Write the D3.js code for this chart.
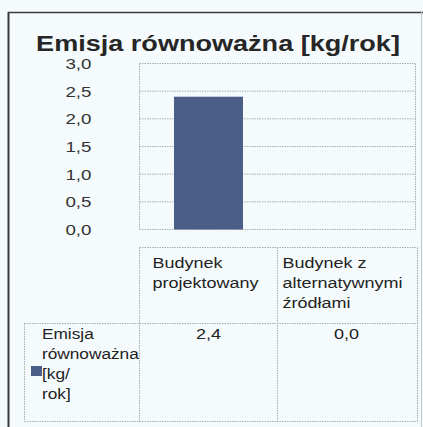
<!DOCTYPE html>
<html>
<head>
<meta charset="utf-8">
<script src="https://cdn.jsdelivr.net/npm/d3@7"></script>
<style>
  html, body { margin: 0; padding: 0; background: #f5fbfd; }
  svg { display: block; }
  text { font-family: "Liberation Sans", Arial, sans-serif; fill: #222; }
</style>
</head>
<body>
<svg id="chart" width="423" height="427"></svg>
<script>
// Chart data
const title = "Emisja równoważna [kg/rok]";
const categories = ["Budynek projektowany", "Budynek z alternatywnymi źródłami"];
const categoryLines = [["Budynek", "projektowany"], ["Budynek z", "alternatywnymi", "źródłami"]];
const seriesName = "Emisja równoważna [kg/rok]";
const seriesLines = ["Emisja", "równoważna", "[kg/", "rok]"];
const values = [2.4, 0.0];
const yTicks = [0, 0.5, 1.0, 1.5, 2.0, 2.5, 3.0];

const fmt = d => d.toFixed(1).replace(".", ",");
const SX = 1.2;            // horizontal text stretch
const barColor = "#4b5e88";
const gridColor = "#a9acae";

const svg = d3.select("#chart");

// Outer frame
svg.append("line").attr("x1", 8).attr("x2", 423).attr("y1", 12.5).attr("y2", 12.5)
  .attr("stroke", "#3a3a3a").attr("stroke-width", 1.5);
svg.append("line").attr("x1", 8.5).attr("x2", 8.5).attr("y1", 12).attr("y2", 427)
  .attr("stroke", "#3a3a3a").attr("stroke-width", 2);
svg.append("line").attr("x1", 421.5).attr("x2", 421.5).attr("y1", 12).attr("y2", 427)
  .attr("stroke", "#c4c7c9").attr("stroke-width", 1);

// Title
svg.append("text")
  .attr("transform", `translate(218,51) scale(1.23,1)`)
  .attr("text-anchor", "middle")
  .attr("font-size", 22).attr("font-weight", "bold")
  .style("fill", "#262626")
  .text(title);

// Scales
const x = d3.scaleBand().domain(categories).range([139.5, 415.5])
  .paddingInner(0.5).paddingOuter(0.25);
const y = d3.scaleLinear().domain([0, 3]).range([229.5, 63.5]);

// Gridlines
svg.append("g").selectAll("line").data(yTicks).join("line")
  .attr("x1", x.range()[0]).attr("x2", x.range()[1])
  .attr("y1", d => y(d)).attr("y2", d => y(d))
  .attr("stroke", gridColor).attr("stroke-width", 1).attr("stroke-dasharray", "1.5,1");

// Plot area border (left and right)
[x.range()[0], x.range()[1]].forEach(px => {
  svg.append("line").attr("x1", px).attr("x2", px).attr("y1", y(3)).attr("y2", y(0))
    .attr("stroke", gridColor).attr("stroke-dasharray", "1.5,1");
});

// Y axis labels
const yAxis = svg.append("g").attr("transform", `translate(${x.range()[0]},0)`)
  .call(d3.axisLeft(y).tickValues(yTicks).tickFormat(fmt).tickSize(0).tickPadding(0));
yAxis.select(".domain").remove();
yAxis.selectAll("text")
  .attr("x", null).attr("dy", null)
  .attr("transform", `translate(-48,5) scale(1.25,1)`)
  .attr("font-size", 15).attr("font-family", null)
  .style("fill", "#333");

// Bars
svg.append("g").selectAll("rect").data(values).join("rect")
  .attr("x", (d, i) => x(categories[i]))
  .attr("width", x.bandwidth())
  .attr("y", d => y(d))
  .attr("height", d => y(0) - y(d))
  .attr("fill", barColor);

// Data table
const step = x.step();
const colEdges = [x.range()[0], x.range()[0] + step, x.range()[1]];
const tableLeft = 24.5, headerTop = 247.5, rowTop = 323.5, tableBottom = 421.5;
const tbl = svg.append("g").attr("stroke", gridColor).attr("stroke-dasharray", "1.5,1").attr("fill", "none");
// header row
tbl.append("line").attr("x1", colEdges[0]).attr("x2", colEdges[2] + 2).attr("y1", headerTop).attr("y2", headerTop);
colEdges.forEach((cx, i) => {
  const xx = i === 2 ? cx + 2 : cx;
  tbl.append("line").attr("x1", xx).attr("x2", xx).attr("y1", headerTop).attr("y2", tableBottom);
});
tbl.append("line").attr("x1", tableLeft).attr("x2", colEdges[2] + 2).attr("y1", rowTop).attr("y2", rowTop);
tbl.append("line").attr("x1", tableLeft).attr("x2", colEdges[2] + 2).attr("y1", tableBottom).attr("y2", tableBottom);
tbl.append("line").attr("x1", tableLeft).attr("x2", tableLeft).attr("y1", rowTop).attr("y2", tableBottom);

// Header texts
categoryLines.forEach((lines, i) => {
  lines.forEach((ln, j) => {
    svg.append("text")
      .attr("transform", `translate(${colEdges[i] + (i === 0 ? 13 : 5)},${268 + j * 20}) scale(${SX},1)`)
      .attr("font-size", 15).text(ln);
  });
});

// Row label with legend key
seriesLines.forEach((ln, j) => {
  svg.append("text")
    .attr("transform", `translate(42,${339 + j * 20}) scale(1.15,1)`)
    .attr("font-size", 15).text(ln);
});
svg.append("rect").attr("x", 31).attr("y", 366).attr("width", 11).attr("height", 10)
  .attr("fill", barColor).append("title").text(seriesName);

// Value cells
values.forEach((v, i) => {
  svg.append("text")
    .attr("transform", `translate(${x(categories[i]) + x.bandwidth() / 2},339) scale(${SX},1)`)
    .attr("text-anchor", "middle")
    .attr("font-size", 15).text(fmt(v));
});
</script>
</body>
</html>
